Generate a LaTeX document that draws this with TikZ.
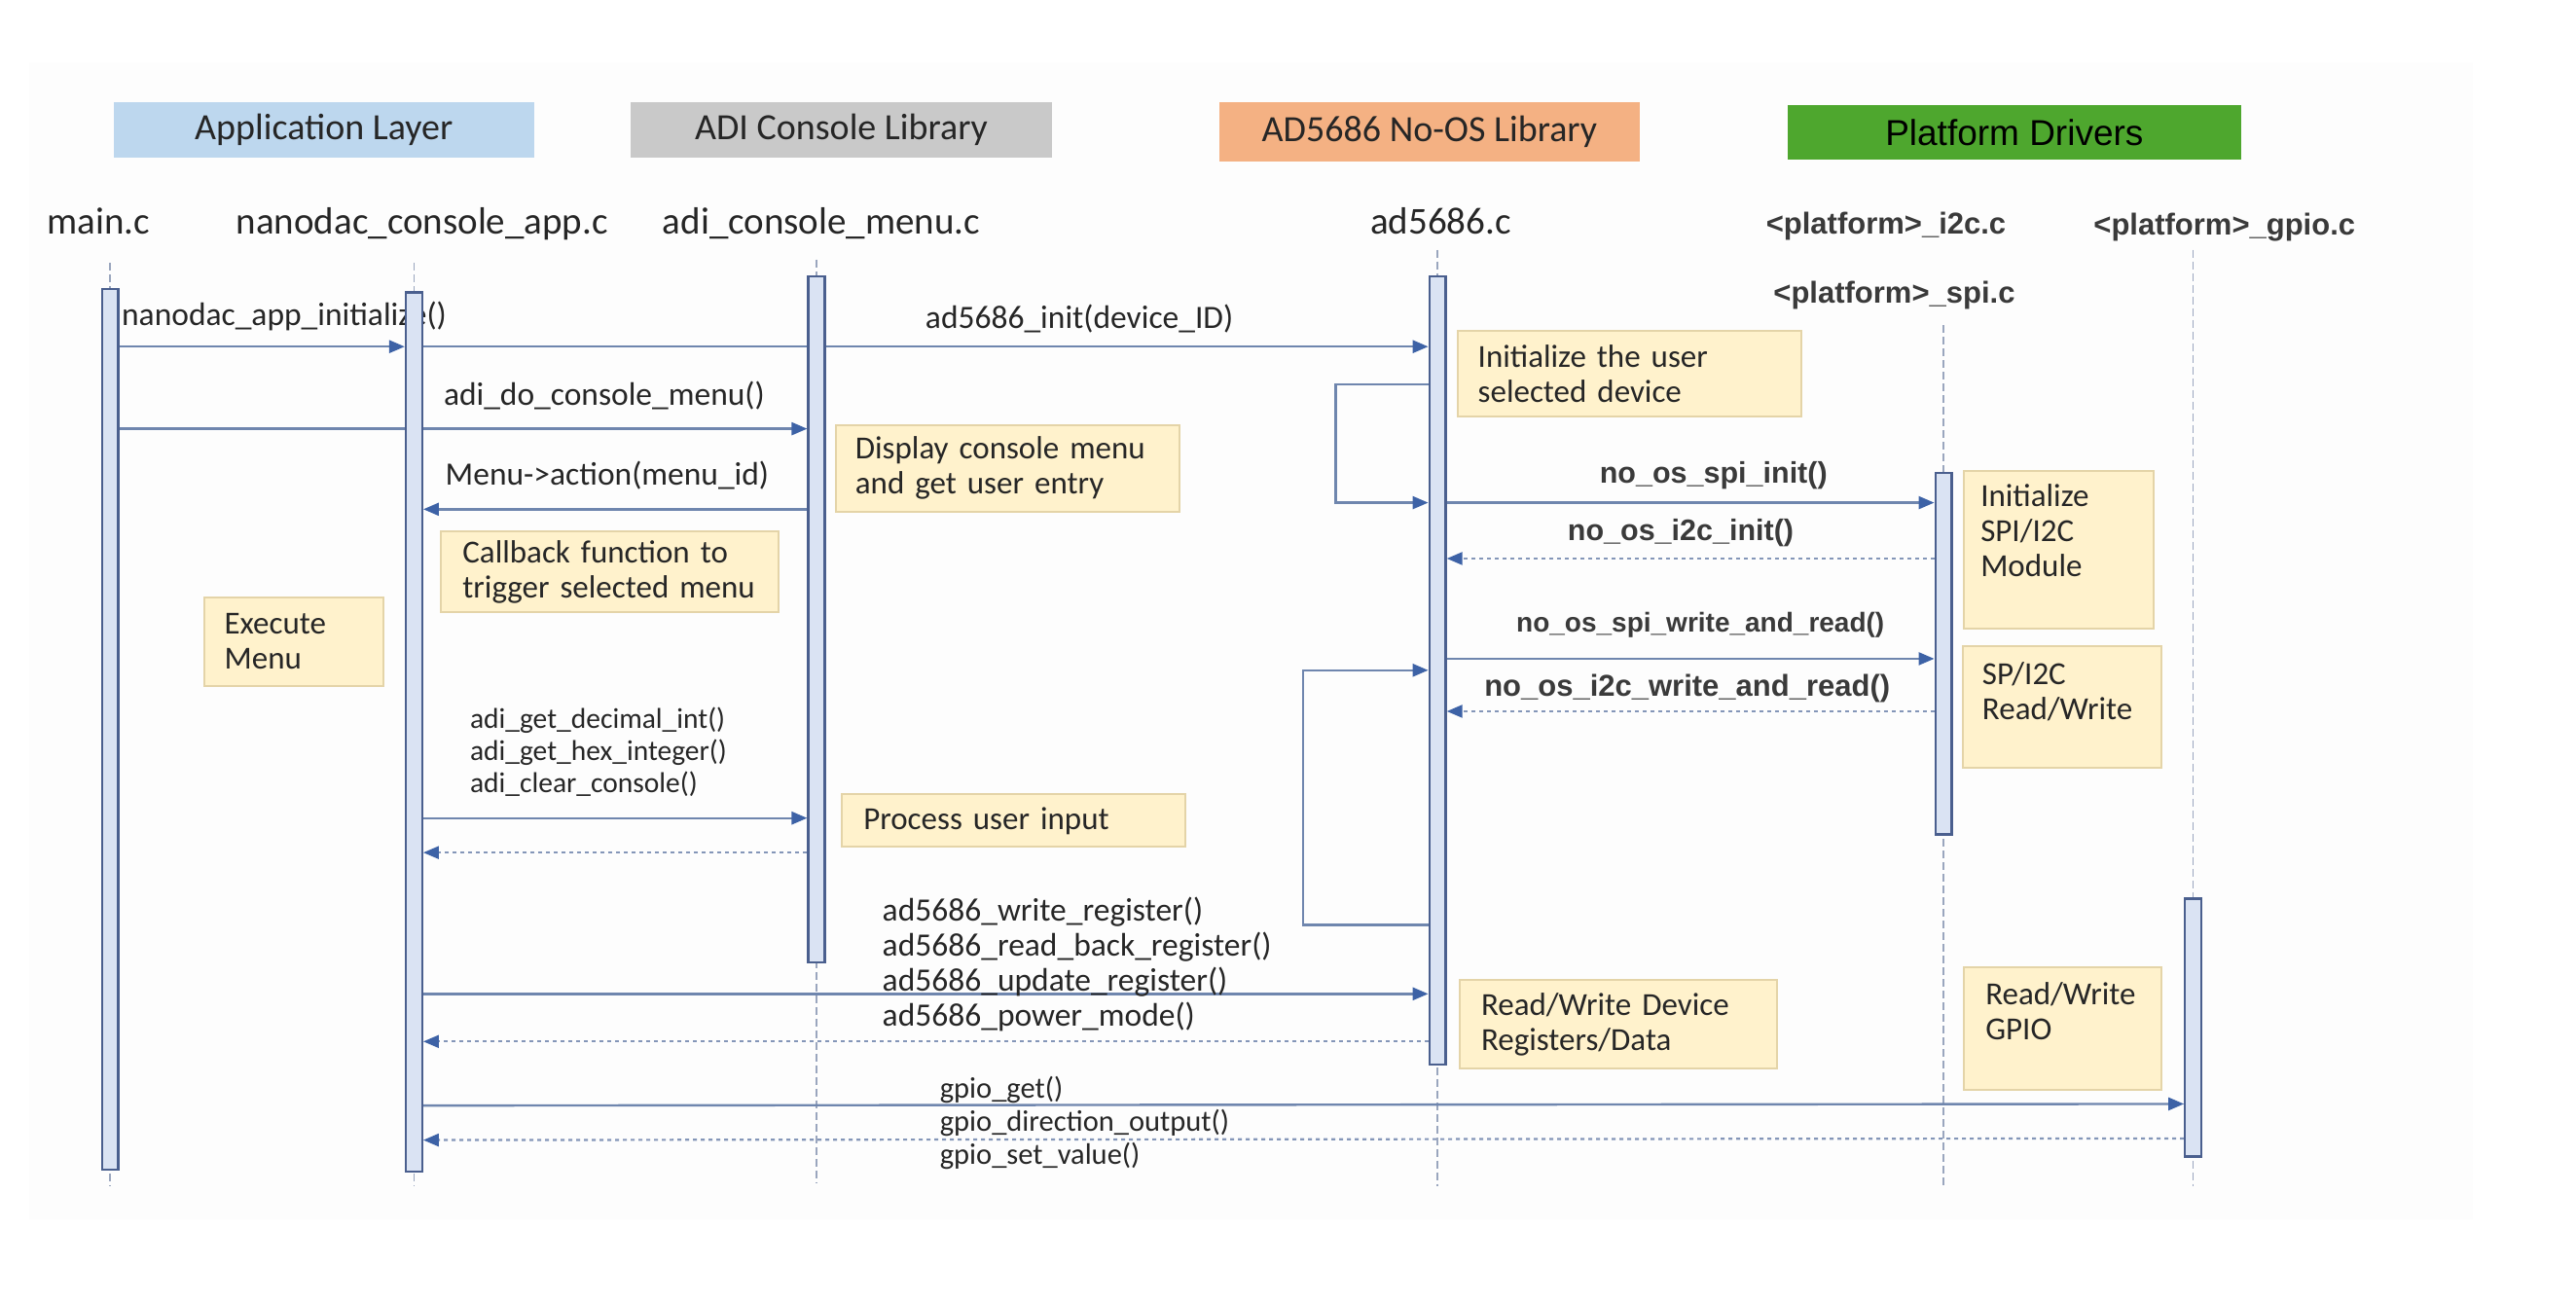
\documentclass[tikz,border=0pt]{standalone}
\usepackage{fontspec}
\setmainfont{Carlito}
\newfontfamily\arialf{Liberation Sans}
\usetikzlibrary{arrows.meta,fit}
\pgfdeclarelayer{back}\pgfdeclarelayer{lines}
\pgfsetlayers{back,lines,main}
\definecolor{panelc}{HTML}{FDFDFD}
\definecolor{hblue}{HTML}{BDD7EE}
\definecolor{hgray}{HTML}{C9C9C9}
\definecolor{horange}{HTML}{F4B183}
\definecolor{hgreen}{HTML}{4EA72E}
\definecolor{notefill}{HTML}{FFF2CC}
\definecolor{notedraw}{HTML}{E4D4A8}
\definecolor{barfill}{HTML}{DAE3F3}
\definecolor{bardraw}{HTML}{4A5F8E}
\definecolor{msgline}{HTML}{6F86AE}
\definecolor{retline}{HTML}{8496B8}
\definecolor{msghead}{HTML}{3D62A6}
\definecolor{lifecol}{HTML}{9AA6BE}
\definecolor{txt}{HTML}{262626}
\definecolor{ptxt}{HTML}{3A3A3A}
\begin{document}
\begin{tikzpicture}[x=1.6881pt,y=-1.6881pt,
  hdr/.style={inner sep=0pt, anchor=north west, font=\fontsize{38}{44}\selectfont, text=txt},
  lbl/.style={font=\fontsize{39}{44}\selectfont, text=txt, inner sep=0pt, anchor=base},
  plbl/.style={font=\arialf\bfseries\fontsize{31}{36}\selectfont, text=ptxt, inner sep=0pt, anchor=base},
  msglbl/.style={font=\fontsize{33.5}{38}\selectfont, text=txt, inner sep=0pt},
  nolbl/.style={font=\arialf\bfseries\fontsize{30.5}{36}\selectfont, text=ptxt, inner sep=0pt, anchor=base},
  note/.style={fill=notefill, draw=notedraw, line width=2pt, inner ysep=0pt, align=left,
    anchor=north west, font=\fontsize{33}{36}\selectfont, text=txt},
  actbar/.style={fill=barfill, draw=bardraw, line width=2.2pt, inner sep=0pt},
  lifeline/.style={draw=lifecol, line width=1.4pt, dash pattern=on 8pt off 4pt},
  msg/.style={draw=msgline, line width=2.4pt, -{Triangle[length=16pt,width=13pt,color=msghead]}},
  ret/.style={draw=retline, line width=2.2pt, dash pattern=on 4pt off 4pt, -{Triangle[length=16pt,width=13pt,color=msghead]}},
]
\useasboundingbox (0,0) rectangle (1568,792);
\begin{pgfonlayer}{back}
\node[fill=panelc, inner sep=0pt, fit={(18,38)(1505,742)}] (panel) {};
\end{pgfonlayer}

% headers
\node[hdr, fill=hblue, minimum width=432.2pt, minimum height=57.4pt] (hApp) at (69,62) {Application Layer};
\node[hdr, fill=hgray, minimum width=432.2pt, minimum height=57.4pt] (hAdi) at (384,62) {ADI Console Library};
\node[hdr, fill=horange, minimum width=432.2pt, minimum height=60.8pt] (hAd) at (742,62) {AD5686 No-OS Library};
\node[hdr, fill=hgreen, minimum width=465.9pt, minimum height=55.7pt, font=\arialf\fontsize{37}{44}\selectfont, text=black] (hPlat) at (1088,64) {Platform Drivers};

% lifeline labels
\node[lbl] (lMain) at (60,142.5) {main.c};
\node[lbl] (lNano) at (257,142.5) {nanodac\_console\_app.c};
\node[lbl] (lMenu) at (500,142.5) {adi\_console\_menu.c};
\node[lbl] (lAd) at (877,142.5) {ad5686.c};
\node[plbl] (lI2c) at (1148,142.5) {<platform>\_i2c.c};
\node[plbl] (lGpio) at (1354,143) {<platform>\_gpio.c};
\node[plbl] (lSpi) at (1153,184.5) {<platform>\_spi.c};

% message labels
\node[msglbl, anchor=base west] (m1) at (74,198) {nanodac\_app\_initialize()};
\node[msglbl, anchor=base] (m2) at (657,200) {ad5686\_init(device\_ID)};
\node[msglbl, anchor=base west] (m3) at (270,247) {adi\_do\_console\_menu()};
\node[msglbl, anchor=base west] (m4) at (271,295) {Menu->action(menu\_id)};
\node[msglbl, anchor=north west, align=left, font=\fontsize{29.5}{33}\selectfont] (m5) at (286,430.5)
  {adi\_get\_decimal\_int()\\adi\_get\_hex\_integer()\\adi\_clear\_console()};
\node[msglbl, anchor=north west, align=left, font=\fontsize{33.5}{36}\selectfont] (m6) at (537,546)
  {ad5686\_write\_register()\\ad5686\_read\_back\_register()\\ad5686\_update\_register()\\ad5686\_power\_mode()};
\node[msglbl, anchor=north west, align=left, font=\fontsize{30.5}{34}\selectfont] (m7) at (572,655)
  {gpio\_get()\\gpio\_direction\_output()\\gpio\_set\_value()};
\node[nolbl] (n1) at (1043,294) {no\_os\_spi\_init()};
\node[nolbl] (n2) at (1023,329) {no\_os\_i2c\_init()};
\node[nolbl, font=\arialf\bfseries\fontsize{28}{34}\selectfont] (n3) at (1035,384.5) {no\_os\_spi\_write\_and\_read()};
\node[nolbl, font=\arialf\bfseries\fontsize{31}{36}\selectfont] (n4) at (1027,424) {no\_os\_i2c\_write\_and\_read()};

% activation bars
\node[actbar, fit={(62,176)(72,712)}] (bMain) {};
\node[actbar, fit={(247,178)(257,713)}] (bNano) {};
\node[actbar, fit={(492,168)(502,586)}] (bMenu) {};
\node[actbar, fit={(870,168)(880,648)}] (bAd) {};
\node[actbar, fit={(1178,288)(1188,508)}] (bSpi) {};
\node[actbar, fit={(1330,547)(1340,704)}] (bGpio) {};

% notes
\node[note, inner xsep=20.3pt, text width=312.3pt, minimum width=352.8pt, minimum height=87.8pt] (nInit) at (887,201) {Initialize the user\\selected device};
\node[note, inner xsep=20.3pt, text width=312.3pt, minimum width=352.8pt, minimum height=89.5pt] (nDisp) at (508,258) {Display console menu\\and get user entry};
\node[note, inner xsep=21.9pt, text width=302.2pt, minimum width=346.1pt, minimum height=82.7pt] (nCall) at (268,323) {Callback function to\\trigger selected menu};
\node[note, inner xsep=20.3pt, text width=143.5pt, minimum width=184.0pt, minimum height=91.2pt] (nExec) at (124,363) {Execute\\Menu};
\node[note, inner xsep=21.9pt, text width=308.9pt, minimum width=352.8pt, minimum height=54.0pt] (nProc) at (512,483) {Process user input};
\node[note, inner xsep=16.9pt, text width=160.4pt, minimum width=194.1pt, minimum height=162.1pt] (nSpiInit) at (1195,286) {Initialize\\SPI/I2C\\Module\\[4pt]\mbox{}};
\node[note, inner xsep=20.3pt, text width=163.7pt, minimum width=204.3pt, minimum height=124.9pt] (nSpiRW) at (1194,393) {SP/I2C\\Read/Write\\[-2pt]\mbox{}};
\node[note, inner xsep=21.9pt, text width=281.9pt, minimum width=325.8pt, minimum height=91.2pt] (nRW) at (888,596) {Read/Write Device\\Registers/Data};
\node[note, inner xsep=21.9pt, text width=158.7pt, minimum width=202.6pt, minimum height=126.6pt] (nGpio) at (1195,588) {Read/Write\\GPIO\\[0pt]\mbox{}};

% lifelines
\coordinate (tMain) at (67,160);  \coordinate (eMain) at (67,722);
\coordinate (tNano) at (252,160); \coordinate (eNano) at (252,722);
\coordinate (tMenu) at (497,158); \coordinate (eMenu) at (497,720);
\coordinate (tAd) at (875,152);   \coordinate (eAd) at (875,722);
\coordinate (tSpi) at (1183,198); \coordinate (eSpi) at (1183,722);
\coordinate (tGpio) at (1335,152);\coordinate (eGpio) at (1335,722);
\coordinate (c1) at (813,234); \coordinate (c2) at (813,306);
\coordinate (c3) at (793,563); \coordinate (c4) at (793,408);

\begin{pgfonlayer}{lines}
\draw[lifeline] (tMain) -- (eMain);
\draw[lifeline] (tNano) -- (eNano);
\draw[lifeline] (tMenu) -- (eMenu);
\draw[lifeline] (tAd) -- (eAd);
\draw[lifeline] (tSpi) -- (eSpi);
\draw[lifeline] (tGpio) -- (eGpio);

\draw[msg] (bMain.east |- 0,211) -- (bNano.west |- 0,211);
\draw[msg] (bNano.east |- 0,211) -- (bAd.west |- 0,211);
\draw[msg] (bMain.east |- 0,261) -- (bMenu.west |- 0,261);
\draw[msg] (bMenu.west |- 0,310) -- (bNano.east |- 0,310);
\draw[msg] (bNano.east |- 0,498) -- (bMenu.west |- 0,498);
\draw[ret] (bMenu.west |- 0,519) -- (bNano.east |- 0,519);
\draw[msg] (bAd.west |- c1) -- (c1) -- (c2) -- (bAd.west |- c2);
\draw[msg] (bAd.east |- 0,306) -- (bSpi.west |- 0,306);
\draw[ret] (bSpi.west |- 0,340) -- (bAd.east |- 0,340);
\draw[msg] (bAd.west |- c3) -- (c3) -- (c4) -- (bAd.west |- c4);
\draw[msg] (bAd.east |- 0,401) -- (bSpi.west |- 0,401);
\draw[ret] (bSpi.west |- 0,433) -- (bAd.east |- 0,433);
\draw[msg] (bNano.east |- 0,605) -- (bAd.west |- 0,605);
\draw[ret] (bAd.west |- 0,634) -- (bNano.east |- 0,634);
\draw[msg] (bNano.east |- 0,673) -- (bGpio.west |- 0,672);
\draw[ret] (bGpio.west |- 0,693) -- (bNano.east |- 0,694);
\end{pgfonlayer}
\end{tikzpicture}
\end{document}
